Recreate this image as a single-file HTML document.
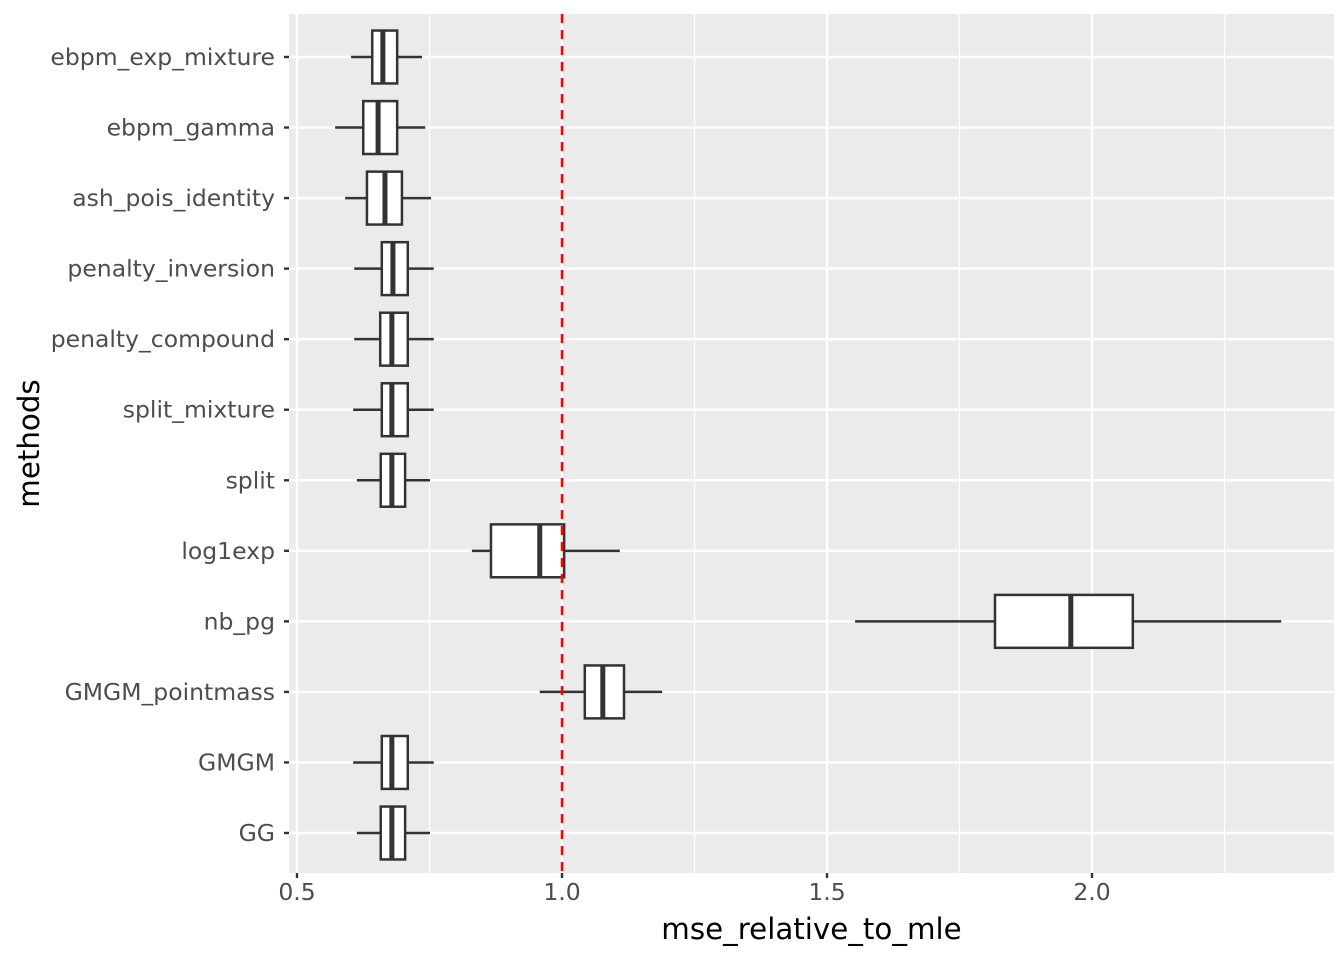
<!DOCTYPE html>
<html><head><meta charset="utf-8"><style>
body{margin:0;background:#fff;font-family:"Liberation Sans","DejaVu Sans",sans-serif;}
svg text{font-family:"DejaVu Sans","Liberation Sans",sans-serif;}
</style></head><body>
<svg id="chart" width="1344" height="960" xmlns="http://www.w3.org/2000/svg"></svg>
<script>
const categories=["ebpm_exp_mixture","ebpm_gamma","ash_pois_identity","penalty_inversion","penalty_compound","split_mixture","split","log1exp","nb_pg","GMGM_pointmass","GMGM","GG"];
const lowWhisker=[0.602,0.572,0.591,0.608,0.608,0.606,0.613,0.830,1.553,0.958,0.606,0.613];
const q1=[0.642,0.625,0.632,0.660,0.657,0.660,0.658,0.866,1.817,1.043,0.660,0.658];
const medians=[0.662,0.653,0.666,0.681,0.679,0.679,0.679,0.958,1.960,1.077,0.679,0.679];
const q3=[0.689,0.689,0.698,0.709,0.709,0.709,0.704,1.004,2.077,1.117,0.709,0.704];
const highWhisker=[0.736,0.742,0.753,0.758,0.758,0.758,0.751,1.109,2.357,1.189,0.758,0.751];
const xTicks=[0.5,1.0,1.5,2.0];
const xTickLabels=["0.5","1.0","1.5","2.0"];
const xMinor=[0.75,1.25,1.75,2.25];
const refLine=1.0;

const NS="http://www.w3.org/2000/svg";
const svg=document.getElementById("chart");
const L=289,R=1334,T=14,B=873;
const x=v=>297+(v-0.5)*530;
const rowH=(833-57)/(categories.length-1);
const y=i=>57+rowH*i;
function el(tag,attrs,parent){const e=document.createElementNS(NS,tag);for(const k in attrs)e.setAttribute(k,attrs[k]);(parent||svg).appendChild(e);return e;}

const panel=el("rect",{x:L,y:T,width:R-L,height:B-T,fill:"#ebebeb"});


xMinor.forEach(v=>{const g=el("line",{x1:x(v),x2:x(v),y1:T,y2:B,stroke:"#fff","stroke-width":1.2});

});
xTicks.forEach(v=>{const g=el("line",{x1:x(v),x2:x(v),y1:T,y2:B,stroke:"#fff","stroke-width":2.4});

});
categories.forEach((c,i)=>{const g=el("line",{x1:L,x2:R,y1:y(i),y2:y(i),stroke:"#fff","stroke-width":2.4});

});

const bh=rowH*0.75;
categories.forEach((c,i)=>{
 const g=el("g",{});
 
 
 el("line",{x1:x(lowWhisker[i]),x2:x(q1[i]),y1:y(i),y2:y(i),stroke:"#333","stroke-width":2.5},g);
 el("line",{x1:x(q3[i]),x2:x(highWhisker[i]),y1:y(i),y2:y(i),stroke:"#333","stroke-width":2.5},g);
 el("rect",{x:x(q1[i]),y:y(i)-bh/2,width:x(q3[i])-x(q1[i]),height:bh,fill:"#fff",stroke:"#333","stroke-width":2.5},g);
 el("line",{x1:x(medians[i]),x2:x(medians[i]),y1:y(i)-bh/2,y2:y(i)+bh/2,stroke:"#333","stroke-width":5},g);
 const t=el("text",{x:L-14,y:y(i)+8,"text-anchor":"end","font-size":"23.5",fill:"#4d4d4d"});t.textContent=c;
 
 
 el("line",{x1:L-5,x2:L,y1:y(i),y2:y(i),stroke:"#333","stroke-width":2.4});
});
const rl=el("line",{x1:x(refLine),x2:x(refLine),y1:T,y2:B,stroke:"#ff0000","stroke-width":2.5,"stroke-dasharray":"9,7"});


xTicks.forEach((v,i)=>{
 el("line",{x1:x(v),x2:x(v),y1:B,y2:B+5,stroke:"#333","stroke-width":2.4});
 const t=el("text",{x:x(v),y:B+27,"text-anchor":"middle","font-size":"23.5",fill:"#4d4d4d"});t.textContent=xTickLabels[i];
 
 
});
const xt=el("text",{x:(L+R)/2,y:939,"text-anchor":"middle","font-size":"29.3",fill:"#000"});xt.textContent="mse_relative_to_mle";


const yt=el("text",{x:39,y:(T+B)/2,"text-anchor":"middle","font-size":"29.3",fill:"#000",transform:`rotate(-90 39 ${(T+B)/2})`});yt.textContent="methods";


</script>
</body></html>
